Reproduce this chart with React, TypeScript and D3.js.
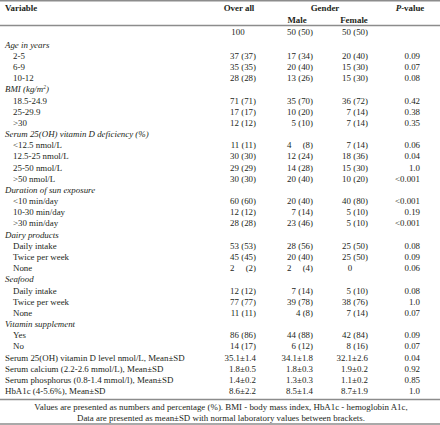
import React from "react";
import * as d3 from "d3";

// ---- data ----
const rowLabels: string[] = [
  "Age in years", "2-5", "6-9", "10-12",
  "BMI (kg/m²)", "18.5-24.9", "25-29.9", ">30",
  "Serum 25(OH) vitamin D deficiency (%)", "<12.5 nmol/L", "12.5-25 nmol/L", "25-50 nmol/L", ">50 nmol/L",
  "Duration of sun exposure", "<10 min/day", "10-30 min/day", ">30 min/day",
  "Dairy products", "Daily intake", "Twice per week", "None",
  "Seafood", "Daily intake", "Twice per week", "None",
  "Vitamin supplement", "Yes", "No",
  "Serum 25(OH) vitamin D level nmol/L, Mean±SD",
  "Serum calcium (2.2-2.6 mmol/L), Mean±SD",
  "Serum phosphorus (0.8-1.4 mmol/l), Mean±SD",
  "HbA1c (4-5.6%), Mean±SD",
];
// h = italic section heading, i = indented item, p = plain row
const rowKinds: string[] = [
  "h", "i", "i", "i",
  "h", "i", "i", "i",
  "h", "i", "i", "i", "i",
  "h", "i", "i", "i",
  "h", "i", "i", "i",
  "h", "i", "i", "i",
  "h", "i", "i",
  "p", "p", "p", "p",
];
const overallValues: string[] = [
  "", "37 (37)", "35 (35)", "28 (28)",
  "", "71 (71)", "17 (17)", "12 (12)",
  "", "11 (11)", "30 (30)", "29 (29)", "30 (30)",
  "", "60 (60)", "12 (12)", "28 (28)",
  "", "53 (53)", "45 (45)", "2\u2007\u2007 (2)",
  "", "12 (12)", "77 (77)", "11 (11)",
  "", "86 (86)", "14 (17)",
  "35.1±1.4", "1.8±0.5", "1.4±0.2", "8.6±2.2",
];
const maleValues: string[] = [
  "", "17 (34)", "20 (40)", "13 (26)",
  "", "35 (70)", "10 (20)", "5 (10)",
  "", "4\u2007 \u2002(8)", "12 (24)", "14 (28)", "20 (40)",
  "", "20 (40)", "7 (14)", "23 (46)",
  "", "28 (56)", "20 (40)", "2\u2007 \u2002(4)",
  "", "7 (14)", "39 (78)", "4 (8)",
  "", "44 (88)", "6 (12)",
  "34.1±1.8", "1.8±0.3", "1.3±0.3", "8.5±1.4",
];
const femaleValues: string[] = [
  "", "20 (40)", "15 (30)", "15 (30)",
  "", "36 (72)", "7 (14)", "7 (14)",
  "", "7 (14)", "18 (36)", "15 (30)", "10 (20)",
  "", "40 (80)", "5 (10)", "5 (10)",
  "", "25 (50)", "25 (50)", "0",
  "", "5 (10)", "38 (76)", "7 (14)",
  "", "42 (84)", "8 (16)",
  "32.1±2.6", "1.9±0.2", "1.1±0.2", "8.7±1.9",
];
const pValues: string[] = [
  "", "0.09", "0.07", "0.08",
  "", "0.42", "0.38", "0.35",
  "", "0.06", "0.04", "1.0", "<0.001",
  "", "<0.001", "0.19", "<0.001",
  "", "0.08", "0.09", "0.06",
  "", "0.08", "1.0", "0.07",
  "", "0.09", "0.07",
  "0.04", "0.92", "0.85", "1.0",
];
const totalN = "100";
const maleN = "50 (50)";
const femaleN = "50 (50)";
const footnotes: string[] = [
  "Values are presented as numbers and percentage (%). BMI - body mass index, HbA1c - hemoglobin A1c,",
  "Data are presented as mean±SD with normal laboratory values between brackets.",
];

const W = 440;
const H = 425;
const FONT = "'Liberation Serif', 'DejaVu Serif', serif";
const FS = 8.9;
const INK = "#231f20";
const RULE = "#8c8c8c";

export default function App() {
  const y = d3.scaleLinear().domain([0, rowLabels.length - 1]).range([44.5, 391]);
  const colRight = { overall: 256, male: 313, female: 368, p: 420 };

  const texts: React.ReactNode[] = [];
  rowLabels.forEach((lab, i) => {
    const kind = rowKinds[i];
    const yy = y(i);
    texts.push(
      <text key={"l" + i} x={kind === "i" ? 13 : 5} y={yy} dy="0.35em"
        fontStyle={kind === "h" ? "italic" : "normal"}>
        {lab === "BMI (kg/m²)" ? (<>BMI (kg/m<tspan fontSize={5.5} dy="-3">2</tspan><tspan dy="3">)</tspan></>) : lab}
      </text>
    );
    const vals: [string, number, string][] = [
      [overallValues[i], colRight.overall, "end"],
      [maleValues[i], colRight.male, "end"],
      [femaleValues[i], femaleValues[i] === "0" ? 350 : colRight.female, femaleValues[i] === "0" ? "middle" : "end"],
      [pValues[i], colRight.p, "end"],
    ];
    vals.forEach(([v, x, a], j) => {
      if (!v) return;
      texts.push(
        <text key={"v" + i + "_" + j} x={x} y={yy} dy="0.35em" textAnchor={a as any}
          style={{ whiteSpace: "pre" }}>{v}</text>
      );
    });
  });

  return (
    <svg width={W} height={H} style={{ position: "absolute", left: 0, top: 0, background: "#fff" }}
      fontFamily={FONT} fontSize={FS} fill={INK}>
      <rect x={0} y={0} width={W} height={H} fill="#fff" />
      <line x1={0} x2={W} y1={0.75} y2={0.75} stroke={RULE} strokeWidth={1.5} />
      <line x1={0} x2={W} y1={25.5} y2={25.5} stroke={RULE} strokeWidth={1.5} />
      <line x1={0} x2={W} y1={399.5} y2={399.5} stroke={RULE} strokeWidth={1.5} />
      <line x1={0} x2={W} y1={424} y2={424} stroke={RULE} strokeWidth={1.5} />
      <g fontWeight="bold">
        <text x={5} y={8} dy="0.35em">Variable</text>
        <text x={239} y={8} dy="0.35em" textAnchor="middle">Over all</text>
        <text x={325} y={8} dy="0.35em" textAnchor="middle">Gender</text>
        <text x={410} y={8} dy="0.35em" textAnchor="middle"><tspan fontStyle="italic">P</tspan>-value</text>
        <text x={297} y={20} dy="0.35em" textAnchor="middle">Male</text>
        <text x={354} y={20} dy="0.35em" textAnchor="middle">Female</text>
      </g>
      <text x={238} y={32} dy="0.35em" textAnchor="middle">{totalN}</text>
      <text x={colRight.male} y={32} dy="0.35em" textAnchor="end">{maleN}</text>
      <text x={colRight.female} y={32} dy="0.35em" textAnchor="end">{femaleN}</text>
      {texts}
      {footnotes.map((f, i) => (
        <text key={"f" + i} x={221} y={407 + i * 11} dy="0.35em" textAnchor="middle">{f}</text>
      ))}
    </svg>
  );
}
